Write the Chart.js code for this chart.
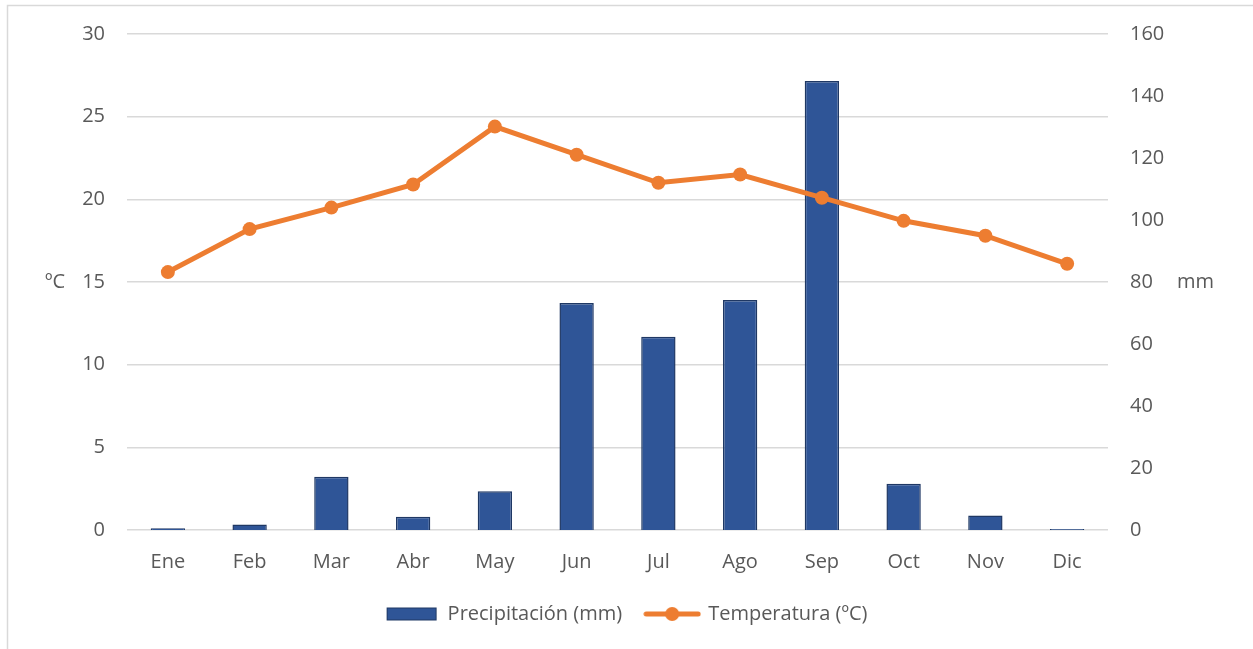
<!DOCTYPE html>
<html>
<head>
<meta charset="utf-8">
<script src="https://cdn.jsdelivr.net/npm/chart.js@4.4.0/dist/chart.umd.min.js"></script>
<style>
  html, body { margin: 0; padding: 0; background: #fff; }
  #wrap { position: relative; width: 1253px; height: 649px; }
</style>
</head>
<body>
<div id="wrap"><canvas id="climateChart" width="1253" height="649"></canvas></div>
<script>
const months = ['Ene', 'Feb', 'Mar', 'Abr', 'May', 'Jun', 'Jul', 'Ago', 'Sep', 'Oct', 'Nov', 'Dic'];
const precipitation = [0.6, 1.8, 17.2, 4.3, 12.5, 73.2, 62.3, 74.2, 144.8, 14.9, 4.7, 0.3];
const temperature = [15.6, 18.2, 19.5, 20.9, 24.4, 22.7, 21.0, 21.5, 20.1, 18.7, 17.8, 16.1];
const tempTicks = [0, 5, 10, 15, 20, 25, 30];
const rainTicks = [0, 20, 40, 60, 80, 100, 120, 140, 160];

const BAR_COLOR = '#2F5597';
const BAR_BORDER = '#1F3864';
const LINE_COLOR = '#ED7D31';
const TEXT_COLOR = '#595959';
const GRID_COLOR = '#D9D9D9';
const FONT = "'Open Sans', 'Liberation Sans', sans-serif";
const FONT_SIZE = 20;

function makeBarSwatch() {
  const c = document.createElement('canvas');
  c.width = 52; c.height = 15;
  const ctx = c.getContext('2d');
  ctx.fillStyle = BAR_COLOR;
  ctx.fillRect(1, 1, 50, 13);
  ctx.strokeStyle = BAR_BORDER;
  ctx.lineWidth = 1;
  ctx.strokeRect(1.5, 1.5, 49, 12);
  return c;
}

function makeLineSwatch() {
  const c = document.createElement('canvas');
  c.width = 58; c.height = 16;
  const ctx = c.getContext('2d');
  ctx.strokeStyle = LINE_COLOR;
  ctx.lineWidth = 5;
  ctx.lineCap = 'round';
  ctx.beginPath();
  ctx.moveTo(3, 8);
  ctx.lineTo(55, 8);
  ctx.stroke();
  ctx.fillStyle = LINE_COLOR;
  ctx.beginPath();
  ctx.arc(29, 8, 7, 0, Math.PI * 2);
  ctx.fill();
  return c;
}

// Horizontal axis titles and the outer frame
const framePlugin = {
  id: 'frame',
  beforeDraw(chart) {
    const ctx = chart.ctx;
    ctx.save();
    ctx.strokeStyle = GRID_COLOR;
    ctx.lineWidth = 1.5;
    ctx.strokeRect(7.5, 5.5, chart.width + 20, chart.height + 20);
    ctx.restore();
  },
  afterDraw(chart) {
    const ctx = chart.ctx;
    const yL = chart.scales.yTemp;
    const midY = (yL.top + yL.bottom) / 2;
    ctx.save();
    ctx.fillStyle = TEXT_COLOR;
    ctx.font = `${FONT_SIZE}px ${FONT}`;
    ctx.textBaseline = 'middle';
    ctx.textAlign = 'left';
    ctx.fillText('ºC', 45, midY);
    ctx.fillText('mm', 1177, midY);
    ctx.restore();
  }
};

const barSwatch = makeBarSwatch();
const lineSwatch = makeLineSwatch();

new Chart(document.getElementById('climateChart'), {
  type: 'bar',
  data: {
    labels: months,
    datasets: [
      {
        type: 'line',
        label: 'Temperatura (ºC)',
        data: temperature,
        yAxisID: 'yTemp',
        borderColor: LINE_COLOR,
        backgroundColor: LINE_COLOR,
        borderWidth: 5,
        pointRadius: 7,
        pointHoverRadius: 7,
        pointBorderWidth: 0,
        tension: 0,
        order: 1
      },
      {
        type: 'bar',
        label: 'Precipitación (mm)',
        data: precipitation,
        yAxisID: 'yRain',
        backgroundColor: BAR_COLOR,
        borderColor: BAR_BORDER,
        borderWidth: 1.5,
        categoryPercentage: 1,
        barPercentage: 0.42,
        order: 2
      }
    ]
  },
  options: {
    responsive: false,
    animation: false,
    layout: { padding: { top: 34, bottom: 15 } },
    plugins: {
      tooltip: { enabled: false },
      legend: {
        position: 'bottom',
        labels: {
          usePointStyle: true,
          pointStyleWidth: 52,
          padding: 24,
          color: TEXT_COLOR,
          font: { family: FONT, size: FONT_SIZE },
          generateLabels(chart) {
            return [
              { text: 'Precipitación (mm)', pointStyle: barSwatch, fontColor: TEXT_COLOR, datasetIndex: 1, lineWidth: 0 },
              { text: 'Temperatura (ºC)', pointStyle: lineSwatch, fontColor: TEXT_COLOR, datasetIndex: 0, lineWidth: 0 }
            ];
          }
        }
      }
    },
    scales: {
      x: {
        grid: { display: false, drawTicks: false },
        border: { display: false },
        ticks: { color: TEXT_COLOR, font: { family: FONT, size: FONT_SIZE }, padding: 20 },
        afterFit(scale) { scale.height = 50; }
      },
      yTemp: {
        position: 'left',
        min: 0,
        max: 30,
        afterBuildTicks(scale) { scale.ticks = tempTicks.map(v => ({ value: v })); },
        grid: { color: GRID_COLOR, lineWidth: 1.5, drawTicks: false },
        border: { display: false },
        ticks: { color: TEXT_COLOR, font: { family: FONT, size: FONT_SIZE }, padding: 22 },
        afterFit(scale) { scale.width = 127; }
      },
      yRain: {
        position: 'right',
        min: 0,
        max: 160,
        afterBuildTicks(scale) { scale.ticks = rainTicks.map(v => ({ value: v })); },
        grid: { display: false, drawTicks: false },
        border: { display: false },
        ticks: { color: TEXT_COLOR, font: { family: FONT, size: FONT_SIZE }, padding: 22 },
        afterFit(scale) { scale.width = 145; }
      }
    }
  },
  plugins: [framePlugin]
});
</script>
</body>
</html>
